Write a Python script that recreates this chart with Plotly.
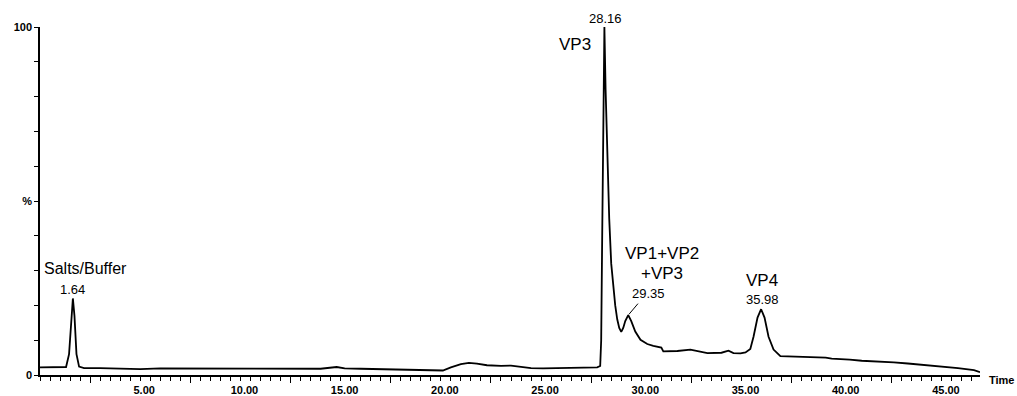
import plotly.graph_objects as go

# Chromatogram trace (time in minutes, intensity in %)
time_min = [0.0, 0.5, 1.0, 1.3, 1.45, 1.55, 1.64, 1.72, 1.82, 1.95, 2.2, 3.0, 4.0, 4.7, 5.0, 6.0,
            8.0, 10.0, 12.0, 14.0, 14.8, 15.2, 16.0, 18.0, 19.5, 20.1, 20.5, 21.0, 21.4, 21.8,
            22.3, 23.0, 23.5, 24.0, 24.5, 25.1, 26.0, 27.0, 27.8, 27.95, 28.0, 28.05, 28.1,
            28.16, 28.22, 28.3, 28.4, 28.5, 28.6, 28.7, 28.8, 28.9, 29.0, 29.1, 29.2, 29.35,
            29.5, 29.7, 29.96, 30.3, 30.6, 31.0, 31.1, 31.8, 32.45, 32.7, 33.3, 34.0, 34.35,
            34.6, 34.95, 35.2, 35.44, 35.6, 35.8, 35.98, 36.15, 36.35, 36.6, 36.94, 37.4, 37.9,
            38.5, 39.0, 39.2, 39.5, 40.0, 40.4, 41.0, 41.5, 42.0, 42.6, 43.3, 44.1, 45.0, 45.8,
            46.6, 46.9]
intensity = [2.2, 2.2, 2.1, 2.3, 6.0, 15.0, 22.0, 17.0, 6.0, 2.4, 2.0, 2.0, 1.8, 1.6, 1.7, 1.9,
             1.9, 1.9, 1.9, 1.8, 2.3, 1.9, 1.8, 1.6, 1.5, 1.3, 2.2, 3.1, 3.5, 3.3,
             2.8, 2.6, 2.7, 2.3, 2.0, 1.9, 2.0, 2.1, 2.2, 2.6, 10.0, 40.0, 80.0,
             100.0, 82.0, 62.0, 45.0, 32.0, 25.0, 20.0, 16.0, 13.5, 12.4, 13.5, 15.5, 17.2,
             15.5, 12.5, 10.1, 8.9, 8.4, 7.9, 6.8, 6.9, 7.3, 7.0, 6.3, 6.4, 7.0,
             6.3, 6.2, 6.5, 7.5, 11.0, 16.5, 18.9, 16.5, 11.0, 7.3, 5.4, 5.3, 5.1,
             5.0, 4.9, 5.0, 4.7, 4.6, 4.4, 4.1, 4.0, 3.9, 3.6, 3.3, 2.9, 2.4, 2.0,
             1.4, 0.8]

x_tick_vals = [5, 10, 15, 20, 25, 30, 35, 40, 45]
x_tick_text = ["5.00", "10.00", "15.00", "20.00", "25.00", "30.00", "35.00", "40.00", "45.00"]
y_tick_vals = [0, 10, 20, 30, 40, 50, 60, 70, 80, 90, 100]
y_tick_text = ["0", "", "", "", "", "%", "", "", "", "", "100"]

# Peak labels: (text, x, y, font size, vertical pixel shift)
peak_labels = [
    ("Salts/Buffer", 2.25, 30.7, 16, 0),
    ("1.64", 1.64, 24.6, 13, 0),
    ("28.16", 28.2, 100.0, 13, 9),
    ("VP3", 26.7, 95.1, 17, 0),
    ("VP1+VP2", 31.04, 34.8, 17, 0),
    ("+VP3", 31.04, 29.3, 17, 0),
    ("29.35", 30.34, 23.3, 13, 0),
    ("VP4", 36.03, 27.3, 17, 0),
    ("35.98", 36.03, 21.6, 13, 0),
]

FONT = "Liberation Sans, Arial, sans-serif"

fig = go.Figure()
fig.add_trace(go.Scatter(x=time_min, y=intensity, mode="lines",
                         line=dict(color="black", width=1.8), showlegend=False,
                         hoverinfo="skip"))
# same series on the overlay axis that carries the long ticks (invisible)
fig.add_trace(go.Scatter(x=time_min, y=intensity, mode="lines", xaxis="x2",
                         line=dict(color="rgba(0,0,0,0)", width=0), showlegend=False,
                         hoverinfo="skip"))

annotations = []
for text, x, y, size, ys in peak_labels:
    annotations.append(dict(x=x, y=y, xref="x", yref="y", text=text, showarrow=False,
                            xanchor="center", yanchor="middle", yshift=ys,
                            font=dict(family=FONT, size=size, color="black")))
# leader line for 29.35
annotations.append(dict(x=29.35, y=17.2, xref="x", yref="y", text="", showarrow=True,
                        arrowhead=0, arrowwidth=1, arrowcolor="black", ax=11, ay=-13,
                        standoff=1))
annotations.append(dict(x=1, y=0, xref="paper", yref="paper", text="<b>Time</b>",
                        showarrow=False, xanchor="left", yanchor="middle", xshift=7, yshift=-5,
                        font=dict(family=FONT, size=11, color="black")))

fig.update_layout(
    width=1017, height=396, autosize=False,
    margin=dict(l=40, r=37, t=27, b=21),
    paper_bgcolor="white", plot_bgcolor="white",
    annotations=annotations,
    xaxis=dict(range=[0, 46.9], showgrid=False, zeroline=False, automargin=False,
               showline=True, linecolor="black", linewidth=1.5,
               tickmode="array", tickvals=x_tick_vals, ticktext=x_tick_text,
               ticks="outside", ticklen=4, tickwidth=1, tickcolor="black",
               ticklabelshift=4, ticklabelstandoff=0,
               tickfont=dict(family=FONT, size=11, color="black", weight="bold"),
               minor=dict(dtick=0.5, tick0=0, ticks="outside", ticklen=4,
                          tickwidth=1, tickcolor="black", showgrid=False)),
    xaxis2=dict(range=[0, 46.9], overlaying="x", side="bottom", anchor="y",
                showgrid=False, zeroline=False, showline=False, automargin=False,
                tickmode="linear", tick0=2.5, dtick=5, ticks="outside", ticklen=7,
                tickwidth=1, tickcolor="black", showticklabels=False),
    yaxis=dict(range=[0, 100], showgrid=False, zeroline=False, automargin=False,
               showline=True, linecolor="black", linewidth=1.5,
               tickmode="array", tickvals=y_tick_vals, ticktext=y_tick_text,
               ticks="outside", ticklen=4, tickwidth=1, tickcolor="black",
               tickfont=dict(family=FONT, size=11, color="black", weight="bold")),
)

fig.write_html("out.html")
